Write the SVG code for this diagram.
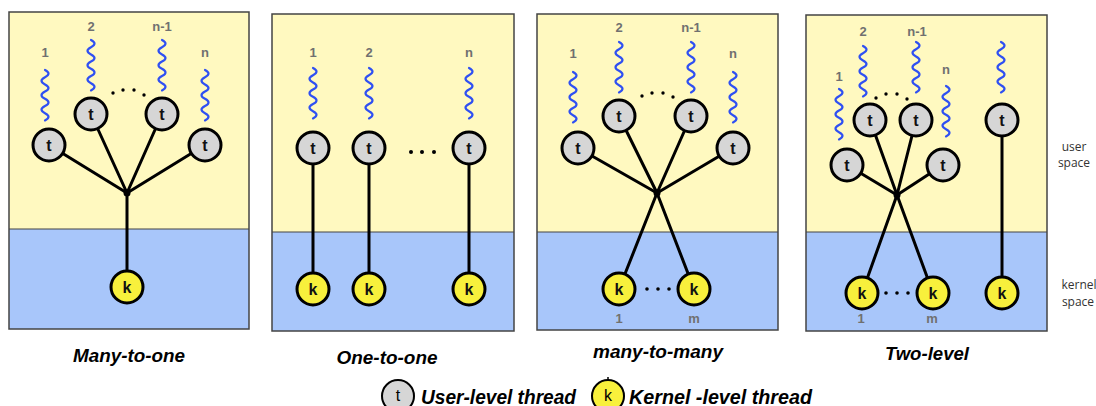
<svg xmlns="http://www.w3.org/2000/svg" xmlns:xlink="http://www.w3.org/1999/xlink" width="1096" height="406" viewBox="0 0 1096 406">
<style>
.us{fill:#fff9c0}
.ks{fill:#a8c6fa}
.frame{fill:none;stroke:#444;stroke-width:1.5}
.div{stroke:#444;stroke-width:1.2}
.tc{fill:#d6d6d6;stroke:#000;stroke-width:3}
.kc{fill:#f8f03c;stroke:#000;stroke-width:3}
.ct{font-family:"Liberation Sans",Arial,sans-serif;font-size:16px;font-weight:bold;fill:#111;text-anchor:middle}
.ln{stroke:#000;stroke-width:3;fill:none;stroke-linecap:round}
.sq{stroke:#2f50f2;stroke-width:2.2;fill:none;stroke-linecap:round}
.lab{font-family:"Liberation Sans",Arial,sans-serif;font-size:13px;font-weight:bold;fill:#707070;text-anchor:middle}
.dot{fill:#000}
.title{font-family:"Liberation Sans",Arial,sans-serif;font-size:18px;font-weight:bold;font-style:italic;fill:#000;text-anchor:middle}
.leg{font-family:"Liberation Sans",Arial,sans-serif;font-size:20px;font-weight:bold;font-style:italic;fill:#000}
.side{font-family:"Open Sans","DejaVu Sans",sans-serif;font-size:12px;fill:#333;text-anchor:middle}
</style>
<defs>
<path id="sqA" class="sq" d="M0,0 q7,3.6 0,7.2 t0,7.2 t0,7.2 t0,7.2 t0,7.2 t0,7.2 t0,7.2"/>
</defs>

<g id="panel-many-to-one">
<rect class="us" x="9" y="12" width="240" height="217"/>
<rect class="ks" x="9" y="229" width="240" height="100"/>
<line class="div" x1="9" y1="229" x2="249" y2="229"/>
<rect class="frame" x="9" y="12" width="240" height="317"/>
</g>
<g id="panel-one-to-one">
<rect class="us" x="272" y="14" width="242" height="218"/>
<rect class="ks" x="272" y="232" width="242" height="99"/>
<line class="div" x1="272" y1="232" x2="514" y2="232"/>
<rect class="frame" x="272" y="14" width="242" height="317"/>
</g>
<g id="panel-many-to-many">
<rect class="us" x="537" y="14" width="241" height="218"/>
<rect class="ks" x="537" y="232" width="241" height="98"/>
<line class="div" x1="537" y1="232" x2="778" y2="232"/>
<rect class="frame" x="537" y="14" width="241" height="316"/>
</g>
<g id="panel-two-level">
<rect class="us" x="806" y="15" width="241" height="217"/>
<rect class="ks" x="806" y="232" width="241" height="99"/>
<line class="div" x1="806" y1="232" x2="1047" y2="232"/>
<rect class="frame" x="806" y="15" width="241" height="316"/>
</g>

<g id="connectors">
<line class="ln" x1="49" y1="145" x2="127" y2="193"/>
<line class="ln" x1="91" y1="114" x2="127" y2="193"/>
<line class="ln" x1="162" y1="114" x2="127" y2="193"/>
<line class="ln" x1="205" y1="145" x2="127" y2="193"/>
<line class="ln" x1="127" y1="193" x2="127" y2="287"/>
<line class="ln" x1="313" y1="148" x2="313" y2="289"/>
<line class="ln" x1="369" y1="148" x2="369" y2="289"/>
<line class="ln" x1="469" y1="148" x2="469" y2="289"/>
<line class="ln" x1="578" y1="148" x2="657" y2="193"/>
<line class="ln" x1="619" y1="116" x2="657" y2="193"/>
<line class="ln" x1="691" y1="116" x2="657" y2="193"/>
<line class="ln" x1="733" y1="148" x2="657" y2="193"/>
<line class="ln" x1="657" y1="193" x2="694" y2="289"/>
<line class="ln" x1="657" y1="193" x2="619" y2="289"/>
<line class="ln" x1="847" y1="165" x2="897" y2="195"/>
<line class="ln" x1="870" y1="120" x2="897" y2="195"/>
<line class="ln" x1="916" y1="120" x2="897" y2="195"/>
<line class="ln" x1="943" y1="165" x2="897" y2="195"/>
<line class="ln" x1="897" y1="195" x2="933" y2="293"/>
<line class="ln" x1="897" y1="195" x2="862" y2="293"/>
<line class="ln" x1="1002" y1="120" x2="1002" y2="293"/>
<circle class="dot" cx="127" cy="193" r="3.5"/>
<circle class="dot" cx="657" cy="193" r="3.5"/>
<circle class="dot" cx="897" cy="195" r="3.5"/>
</g>

<g id="squiggles">
<use xlink:href="#sqA" x="45" y="70"/>
<use xlink:href="#sqA" x="91" y="40"/>
<use xlink:href="#sqA" x="162" y="40"/>
<use xlink:href="#sqA" x="205" y="70"/>
<use xlink:href="#sqA" x="313" y="68"/>
<use xlink:href="#sqA" x="369" y="68"/>
<use xlink:href="#sqA" x="469" y="68"/>
<use xlink:href="#sqA" x="573" y="72"/>
<use xlink:href="#sqA" x="619" y="42"/>
<use xlink:href="#sqA" x="691" y="42"/>
<use xlink:href="#sqA" x="733" y="72"/>
<use xlink:href="#sqA" x="839" y="89"/>
<use xlink:href="#sqA" x="863" y="46"/>
<use xlink:href="#sqA" x="916" y="42"/>
<use xlink:href="#sqA" x="946" y="86"/>
<use xlink:href="#sqA" x="1001" y="42"/>
</g>
<g id="labels">
<text class="lab" x="45" y="57">1</text>
<text class="lab" x="91" y="31">2</text>
<text class="lab" x="162" y="31">n-1</text>
<text class="lab" x="205" y="57">n</text>
<text class="lab" x="313" y="57">1</text>
<text class="lab" x="369" y="57">2</text>
<text class="lab" x="469" y="57">n</text>
<text class="lab" x="573" y="58">1</text>
<text class="lab" x="619" y="32">2</text>
<text class="lab" x="691" y="32">n-1</text>
<text class="lab" x="733" y="58">n</text>
<text class="lab" x="619" y="323">1</text>
<text class="lab" x="694" y="323">m</text>
<text class="lab" x="839" y="81">1</text>
<text class="lab" x="863" y="36">2</text>
<text class="lab" x="917" y="36">n-1</text>
<text class="lab" x="946" y="74">n</text>
<text class="lab" x="861" y="323">1</text>
<text class="lab" x="932" y="323">m</text>
</g>
<g id="ellipses">
<circle class="dot" cx="113" cy="93" r="1.7"/><circle class="dot" cx="123" cy="90" r="1.7"/><circle class="dot" cx="134" cy="90" r="1.7"/><circle class="dot" cx="144" cy="95" r="1.7"/>
<circle class="dot" cx="411" cy="152" r="2"/><circle class="dot" cx="422" cy="152" r="2"/><circle class="dot" cx="434" cy="152" r="2"/>
<circle class="dot" cx="642" cy="96" r="1.7"/><circle class="dot" cx="652" cy="93" r="1.7"/><circle class="dot" cx="663" cy="93" r="1.7"/><circle class="dot" cx="673" cy="97" r="1.7"/>
<circle class="dot" cx="647" cy="289" r="1.8"/><circle class="dot" cx="658" cy="289" r="1.8"/><circle class="dot" cx="669" cy="289" r="1.8"/>
<circle class="dot" cx="876" cy="98" r="1.7"/><circle class="dot" cx="886" cy="94" r="1.7"/><circle class="dot" cx="897" cy="94" r="1.7"/><circle class="dot" cx="907" cy="99" r="1.7"/>
<circle class="dot" cx="886" cy="293" r="1.8"/><circle class="dot" cx="897" cy="293" r="1.8"/><circle class="dot" cx="908" cy="293" r="1.8"/>
</g>

<g id="p1-t1"><circle class="tc" cx="49" cy="145" r="16"/><text class="ct" x="49" y="151">t</text></g>
<g id="p1-t2"><circle class="tc" cx="91" cy="114" r="16"/><text class="ct" x="91" y="120">t</text></g>
<g id="p1-t3"><circle class="tc" cx="162" cy="114" r="16"/><text class="ct" x="162" y="120">t</text></g>
<g id="p1-t4"><circle class="tc" cx="205" cy="145" r="16"/><text class="ct" x="205" y="151">t</text></g>
<g id="p1-k1"><circle class="kc" cx="127" cy="287" r="16"/><text class="ct" x="127" y="293">k</text></g>
<g id="p2-t1"><circle class="tc" cx="313" cy="148" r="16"/><text class="ct" x="313" y="154">t</text></g>
<g id="p2-t2"><circle class="tc" cx="369" cy="148" r="16"/><text class="ct" x="369" y="154">t</text></g>
<g id="p2-t3"><circle class="tc" cx="469" cy="148" r="16"/><text class="ct" x="469" y="154">t</text></g>
<g id="p2-k1"><circle class="kc" cx="313" cy="289" r="16"/><text class="ct" x="313" y="295">k</text></g>
<g id="p2-k2"><circle class="kc" cx="369" cy="289" r="16"/><text class="ct" x="369" y="295">k</text></g>
<g id="p2-k3"><circle class="kc" cx="469" cy="289" r="16"/><text class="ct" x="469" y="295">k</text></g>
<g id="p3-t1"><circle class="tc" cx="578" cy="148" r="16"/><text class="ct" x="578" y="154">t</text></g>
<g id="p3-t2"><circle class="tc" cx="619" cy="116" r="16"/><text class="ct" x="619" y="122">t</text></g>
<g id="p3-t3"><circle class="tc" cx="691" cy="116" r="16"/><text class="ct" x="691" y="122">t</text></g>
<g id="p3-t4"><circle class="tc" cx="733" cy="148" r="16"/><text class="ct" x="733" y="154">t</text></g>
<g id="p3-k1"><circle class="kc" cx="619" cy="289" r="16"/><text class="ct" x="619" y="295">k</text></g>
<g id="p3-k2"><circle class="kc" cx="694" cy="289" r="16"/><text class="ct" x="694" y="295">k</text></g>
<g id="p4-t1"><circle class="tc" cx="847" cy="165" r="16"/><text class="ct" x="847" y="171">t</text></g>
<g id="p4-t2"><circle class="tc" cx="870" cy="120" r="16"/><text class="ct" x="870" y="126">t</text></g>
<g id="p4-t3"><circle class="tc" cx="916" cy="120" r="16"/><text class="ct" x="916" y="126">t</text></g>
<g id="p4-t4"><circle class="tc" cx="943" cy="165" r="16"/><text class="ct" x="943" y="171">t</text></g>
<g id="p4-t5"><circle class="tc" cx="1002" cy="120" r="16"/><text class="ct" x="1002" y="126">t</text></g>
<g id="p4-k1"><circle class="kc" cx="862" cy="293" r="16"/><text class="ct" x="862" y="299">k</text></g>
<g id="p4-k2"><circle class="kc" cx="933" cy="293" r="16"/><text class="ct" x="933" y="299">k</text></g>
<g id="p4-k3"><circle class="kc" cx="1002" cy="293" r="16"/><text class="ct" x="1002" y="299">k</text></g>

<g id="side-labels">
<text class="side" x="1074" y="151">user</text>
<text class="side" x="1074" y="167">space</text>
<text class="side" x="1079" y="289">kernel</text>
<text class="side" x="1078" y="306">space</text>
</g>

<g id="titles">
<text class="title" x="129" y="362" textLength="112" lengthAdjust="spacingAndGlyphs">Many-to-one</text>
<text class="title" x="387" y="364" textLength="101" lengthAdjust="spacingAndGlyphs">One-to-one</text>
<text class="title" x="658" y="358" textLength="130" lengthAdjust="spacingAndGlyphs">many-to-many</text>
<text class="title" x="927" y="360" textLength="84" lengthAdjust="spacingAndGlyphs">Two-level</text>
</g>

<g id="legend">
<circle cx="398" cy="396" r="16" fill="#d6d6d6" stroke="#000" stroke-width="2"/>
<text x="398" y="401" font-family="Liberation Sans, Arial, sans-serif" font-size="16" text-anchor="middle">t</text>
<text class="leg" x="421" y="404" textLength="155" lengthAdjust="spacingAndGlyphs">User-level thread</text>
<circle cx="608" cy="396" r="16" fill="#f8f03c" stroke="#000" stroke-width="2"/>
<line x1="608" y1="377" x2="608" y2="381" stroke="#000" stroke-width="1.5"/>
<text x="608" y="401" font-family="Liberation Sans, Arial, sans-serif" font-size="16" text-anchor="middle">k</text>
<text class="leg" x="629" y="404" textLength="183" lengthAdjust="spacingAndGlyphs">Kernel -level thread</text>
</g>
</svg>
